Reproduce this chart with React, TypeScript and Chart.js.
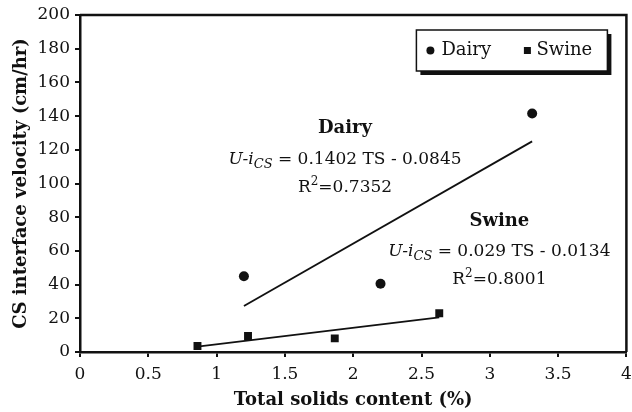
import React, { useEffect, useRef } from 'react';
import { Chart, registerables } from 'chart.js';

Chart.register(...registerables);

const seriesNames = ['Dairy', 'Swine'];
const dairyTS = [1.2, 2.2, 3.31];
const dairyVel = [45, 40.5, 141.5];
const swineTS = [0.86, 1.23, 1.865, 2.63];
const swineVel = [3.6, 9.5, 8.1, 23];
const dairyFitTS = [1.2, 3.31];
const dairyFitVel = [27.3, 125];
const swineFitTS = [0.86, 2.63];
const swineFitVel = [3.2, 20.6];
const xTitle = 'Total solids content (%)';
const yTitle = 'CS interface velocity (cm/hr)';
const dairyEq = ['0.1402 TS - 0.0845', 'R²=0.7352'];
const swineEq = ['0.029 TS - 0.0134', 'R²=0.8001'];
// annotation anchors in data coordinates [TS, velocity]
const dairyNoteAt = [1.94, 132.9, 114.2, 97.6];
const swineNoteAt = [3.07, 77.4, 59.6, 42.7];

const FONT = "'DejaVu Serif', serif";
const INK = '#111';

type Seg = { t: string; style?: string; size: number; dy?: number };

function drawSegs(ctx: CanvasRenderingContext2D, segs: Seg[], cx: number, cy: number) {
  let total = 0;
  const widths = segs.map((s) => {
    ctx.font = `${s.style || ''} ${s.size}px ${FONT}`;
    const w = ctx.measureText(s.t).width;
    total += w;
    return w;
  });
  let x = cx - total / 2;
  ctx.textAlign = 'left';
  ctx.textBaseline = 'middle';
  segs.forEach((s, i) => {
    ctx.font = `${s.style || ''} ${s.size}px ${FONT}`;
    ctx.fillText(s.t, x, cy + (s.dy || 0));
    x += widths[i];
  });
}

function drawNote(chart: any, name: string, eq: string[], at: number[]) {
  const { ctx, scales } = chart;
  const xs = scales.x;
  const ys = scales.y;
  const cx = xs.getPixelForValue(at[0]);
  ctx.fillStyle = INK;
  drawSegs(ctx, [{ t: name, style: 'bold', size: 18 }], cx, ys.getPixelForValue(at[1]));
  drawSegs(
    ctx,
    [
      { t: 'U-i', style: 'italic', size: 17 },
      { t: 'CS', style: 'italic', size: 13, dy: 5 },
      { t: ' = ' + eq[0], size: 17 },
    ],
    cx,
    ys.getPixelForValue(at[2])
  );
  const r = eq[1].replace('²', '');
  drawSegs(
    ctx,
    [
      { t: r.slice(0, 1), size: 17 },
      { t: '2', size: 12, dy: -6 },
      { t: r.slice(1), size: 17 },
    ],
    cx,
    ys.getPixelForValue(at[3])
  );
}

const overlay = {
  id: 'overlay',
  afterDraw(chart: any) {
    const { ctx, chartArea: a } = chart;
    ctx.save();
    ctx.strokeStyle = INK;
    ctx.lineWidth = 2.5;
    ctx.beginPath();
    ctx.moveTo(a.left, a.top);
    ctx.lineTo(a.right, a.top);
    ctx.lineTo(a.right, a.bottom);
    ctx.stroke();

    // legend box with shadow
    const bw = 191;
    const bh = 41;
    const bx = a.right - 19 - bw;
    const by = a.top + 15;
    ctx.fillStyle = INK;
    ctx.fillRect(bx + 4, by + 4, bw, bh);
    ctx.fillStyle = '#fff';
    ctx.fillRect(bx, by, bw, bh);
    ctx.lineWidth = 1.5;
    ctx.strokeRect(bx, by, bw, bh);
    const cy = by + bh / 2;
    ctx.fillStyle = INK;
    ctx.beginPath();
    ctx.arc(bx + 14, cy, 4, 0, Math.PI * 2);
    ctx.fill();
    ctx.fillRect(bx + 107.5, cy - 3.5, 7, 7);
    ctx.font = `18px ${FONT}`;
    ctx.textAlign = 'left';
    ctx.textBaseline = 'middle';
    ctx.fillText(seriesNames[0], bx + 25, cy);
    ctx.fillText(seriesNames[1], bx + 120, cy);

    drawNote(chart, seriesNames[0], dairyEq, dairyNoteAt);
    drawNote(chart, seriesNames[1], swineEq, swineNoteAt);
    ctx.restore();
  },
};

export default function App() {
  const ref = useRef<HTMLCanvasElement>(null);
  useEffect(() => {
    const toXY = (xs: number[], ys: number[]) => xs.map((x, i) => ({ x, y: ys[i] }));
    const chart = new Chart(ref.current as HTMLCanvasElement, {
      type: 'scatter',
      data: {
        datasets: [
          {
            label: seriesNames[0],
            data: toXY(dairyTS, dairyVel),
            pointStyle: 'circle',
            pointRadius: 5,
            backgroundColor: INK,
            borderColor: INK,
            borderWidth: 0,
          },
          {
            label: seriesNames[1],
            data: toXY(swineTS, swineVel),
            pointStyle: 'rect',
            pointRadius: 5.6,
            backgroundColor: INK,
            borderColor: INK,
            borderWidth: 0,
          },
          {
            label: 'Dairy fit',
            data: toXY(dairyFitTS, dairyFitVel),
            showLine: true,
            pointRadius: 0,
            borderColor: INK,
            borderWidth: 1.8,
          },
          {
            label: 'Swine fit',
            data: toXY(swineFitTS, swineFitVel),
            showLine: true,
            pointRadius: 0,
            borderColor: INK,
            borderWidth: 1.8,
          },
        ],
      },
      options: {
        responsive: false,
        animation: false,
        layout: { padding: { top: 15, right: 5, left: 0, bottom: 0 } },
        plugins: { legend: { display: false }, tooltip: { enabled: false } },
        scales: {
          x: {
            type: 'linear',
            min: 0,
            max: 4,
            afterFit: (s: any) => {
              s.height = 60;
              s.paddingLeft = 0;
              s.paddingRight = 0;
            },
            ticks: {
              stepSize: 0.5,
              color: INK,
              font: { family: FONT, size: 17 },
              padding: 7,
              maxRotation: 0,
              callback: (v: any) => String(Number(v)),
            },
            grid: { drawOnChartArea: false, drawTicks: true, tickLength: 5, color: INK, lineWidth: 2 },
            border: { display: true, color: INK, width: 2.5 },
            title: {
              display: true,
              text: xTitle,
              color: INK,
              font: { family: FONT, size: 18, weight: 'bold' },
              padding: { top: 0, bottom: 1 },
            },
          },
          y: {
            min: 0,
            max: 200,
            afterFit: (s: any) => {
              s.width = 80;
              s.paddingTop = 0;
              s.paddingBottom = 0;
            },
            ticks: { stepSize: 20, color: INK, font: { family: FONT, size: 17 }, padding: 5 },
            grid: { drawOnChartArea: false, drawTicks: true, tickLength: 5, color: INK, lineWidth: 2 },
            border: { display: true, color: INK, width: 2.5 },
            title: {
              display: true,
              text: yTitle,
              color: INK,
              font: { family: FONT, size: 18, weight: 'bold' },
              padding: { top: 11, bottom: 0 },
            },
          },
        },
      },
      plugins: [overlay],
    });
    return () => chart.destroy();
  }, []);
  return (
    <div style={{ position: 'fixed', left: 0, top: 0, width: 632, height: 412, background: '#fff' }}>
      <canvas ref={ref} width={632} height={412} />
    </div>
  );
}
